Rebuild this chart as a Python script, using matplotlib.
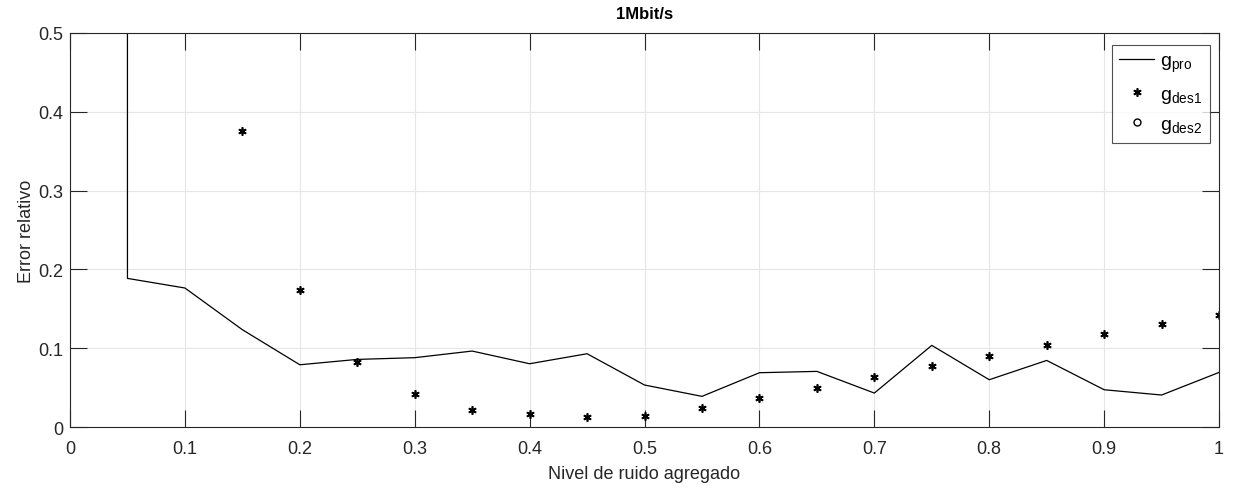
import matplotlib
matplotlib.use('Agg')
import matplotlib.pyplot as plt
import numpy as np

plt.rcParams['font.family'] = ['Liberation Sans', 'DejaVu Sans']

# nivel de ruido
x_pro = [0.0, 0.05, 0.1, 0.15, 0.2, 0.25, 0.3, 0.35, 0.4, 0.45, 0.5,
         0.55, 0.6, 0.65, 0.7, 0.75, 0.8, 0.85, 0.9, 0.95, 1.0]
g_pro = [1000.0, 0.1886, 0.1764, 0.1235, 0.079, 0.0858, 0.088, 0.0964, 0.0803, 0.093, 0.0533,
         0.0389, 0.0689, 0.0706, 0.0431, 0.1036, 0.060, 0.0845, 0.0473, 0.0406, 0.0693]

x_des1 = [0.15, 0.2, 0.25, 0.3, 0.35, 0.4, 0.45, 0.5, 0.55, 0.6,
          0.65, 0.7, 0.75, 0.8, 0.85, 0.9, 0.95, 1.0]
g_des1 = [0.376, 0.1742, 0.0825, 0.0414, 0.0216, 0.0169, 0.0122, 0.0143, 0.0241, 0.0363,
          0.0495, 0.0634, 0.0774, 0.0905, 0.104, 0.1175, 0.131, 0.1425]

x_des2 = []
g_des2 = []

fig = plt.figure(figsize=(12.39, 4.89), dpi=100)
ax = fig.add_axes([0.0565, 0.1247, 0.9274, 0.8058])

ax.plot(x_pro, g_pro, color='black', linewidth=0.9, label='g$_\\mathregular{pro}$')
ax.plot(x_des1, g_des1, linestyle='none', marker=(6, 2, 0), markersize=6,
        markeredgewidth=1.2, color='black', label='g$_\\mathregular{des1}$')
ax.plot(x_des2, g_des2, linestyle='none', marker='o', markersize=5,
        markerfacecolor='none', markeredgecolor='black', label='g$_\\mathregular{des2}$')

ax.set_xlim(0, 1)
ax.set_ylim(0, 0.5)
ax.set_xticks(np.arange(0, 1.01, 0.1))
ax.set_xticklabels(['0', '0.1', '0.2', '0.3', '0.4', '0.5', '0.6', '0.7', '0.8', '0.9', '1'])
ax.set_yticks(np.arange(0, 0.51, 0.1))
ax.set_yticklabels(['0', '0.1', '0.2', '0.3', '0.4', '0.5'])
ax.grid(True, color='#e6e6e6', linewidth=0.8)
ax.tick_params(direction='in', top=True, right=True, length=12, width=0.8,
               labelsize=13, colors='#262626')
ax.tick_params(axis='x', pad=9)
ax.tick_params(axis='y', pad=5)
for s in ax.spines.values():
    s.set_color('#262626')
    s.set_linewidth(0.8)

ax.set_title('1Mbit/s', fontsize=12, fontweight='bold', color='black', pad=11)
ax.set_xlabel('Nivel de ruido agregado', fontsize=13, color='#262626', labelpad=6)
ax.set_ylabel('Error relativo', fontsize=13, color='#262626', labelpad=2)

leg = ax.legend(loc='upper right', fontsize=14, frameon=True, fancybox=False,
                edgecolor='#262626', handlelength=1.8, handletextpad=0.3,
                borderpad=0.4, labelspacing=0.55, borderaxespad=0,
                bbox_to_anchor=(0.992, 0.97))
leg.get_frame().set_linewidth(0.8)

fig.savefig('out.png', dpi=100)
